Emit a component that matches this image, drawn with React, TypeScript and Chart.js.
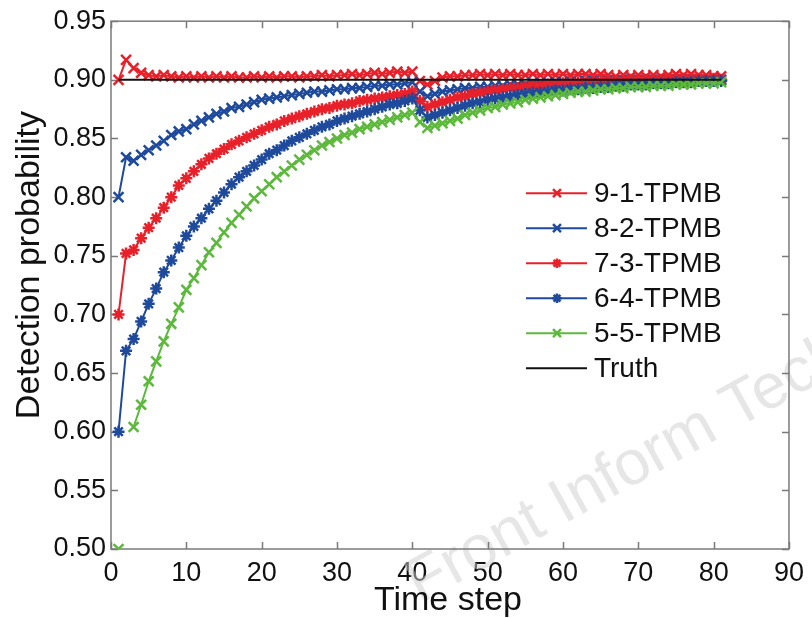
import React, { useEffect, useRef } from "react";
import { Chart, registerables } from "chart.js";

Chart.register(...registerables);

const timeSteps = [
  1, 2, 3, 4, 5, 6, 7, 8, 9, 10, 11, 12, 13, 14, 15, 16, 17, 18, 19, 20,
  21, 22, 23, 24, 25, 26, 27, 28, 29, 30, 31, 32, 33, 34, 35, 36, 37, 38, 39, 40,
  41, 42, 43, 44, 45, 46, 47, 48, 49, 50, 51, 52, 53, 54, 55, 56, 57, 58, 59, 60,
  61, 62, 63, 64, 65, 66, 67, 68, 69, 70, 71, 72, 73, 74, 75, 76, 77, 78, 79, 80, 81,
];

const series91 = [
  0.900, 0.917, 0.910, 0.906, 0.904, 0.903, 0.904, 0.903, 0.902, 0.903,
  0.902, 0.903, 0.902, 0.903, 0.902, 0.903, 0.902, 0.902, 0.903, 0.902,
  0.903, 0.902, 0.903, 0.903, 0.902, 0.903, 0.903, 0.904, 0.903, 0.904,
  0.904, 0.905, 0.904, 0.905, 0.906, 0.905, 0.906, 0.907, 0.906, 0.907,
  0.899, 0.896, 0.899, 0.902, 0.903, 0.903, 0.904, 0.904, 0.905, 0.904,
  0.905, 0.904, 0.905, 0.904, 0.904, 0.905, 0.904, 0.905, 0.904, 0.905,
  0.904, 0.905, 0.905, 0.904, 0.905, 0.904, 0.903, 0.904, 0.903, 0.904,
  0.903, 0.904, 0.903, 0.904, 0.905, 0.904, 0.905, 0.904, 0.904, 0.903, 0.903,
];

const series82 = [
  0.800, 0.834, 0.831, 0.836, 0.840, 0.844, 0.848, 0.853, 0.856, 0.858,
  0.862, 0.865, 0.868, 0.871, 0.873, 0.876, 0.877, 0.879, 0.881, 0.883,
  0.884, 0.885, 0.886, 0.887, 0.888, 0.889, 0.890, 0.890, 0.891, 0.892,
  0.892, 0.893, 0.893, 0.894, 0.895, 0.895, 0.896, 0.896, 0.897, 0.898,
  0.890, 0.886, 0.888, 0.890, 0.891, 0.892, 0.893, 0.893, 0.894, 0.894,
  0.895, 0.895, 0.896, 0.896, 0.896, 0.897, 0.897, 0.897, 0.898, 0.898,
  0.898, 0.898, 0.899, 0.899, 0.899, 0.899, 0.899, 0.899, 0.900, 0.899,
  0.900, 0.899, 0.900, 0.900, 0.899, 0.900, 0.900, 0.900, 0.900, 0.900, 0.900,
];

const series73 = [
  0.700, 0.752, 0.755, 0.765, 0.774, 0.782, 0.791, 0.800, 0.810, 0.816,
  0.822, 0.828, 0.833, 0.837, 0.841, 0.845, 0.848, 0.851, 0.854, 0.857,
  0.860, 0.862, 0.865, 0.867, 0.869, 0.871, 0.873, 0.875, 0.876, 0.878,
  0.879, 0.880, 0.882, 0.883, 0.884, 0.885, 0.886, 0.887, 0.888, 0.890,
  0.882, 0.877, 0.879, 0.881, 0.883, 0.885, 0.886, 0.888, 0.889, 0.890,
  0.891, 0.892, 0.893, 0.893, 0.894, 0.895, 0.895, 0.896, 0.896, 0.897,
  0.897, 0.898, 0.898, 0.898, 0.899, 0.899, 0.899, 0.899, 0.900, 0.900,
  0.900, 0.900, 0.900, 0.901, 0.900, 0.901, 0.900, 0.901, 0.900, 0.901, 0.900,
];

const series64 = [
  0.600, 0.669, 0.679, 0.694, 0.709, 0.722, 0.736, 0.746, 0.757, 0.767,
  0.775, 0.782, 0.790, 0.797, 0.804, 0.811, 0.817, 0.822, 0.827, 0.832,
  0.837, 0.840, 0.844, 0.848, 0.851, 0.854, 0.857, 0.860, 0.862, 0.865,
  0.867, 0.869, 0.871, 0.873, 0.875, 0.877, 0.879, 0.880, 0.882, 0.884,
  0.874, 0.868, 0.870, 0.872, 0.874, 0.876, 0.878, 0.880, 0.881, 0.883,
  0.884, 0.885, 0.886, 0.887, 0.888, 0.889, 0.889, 0.890, 0.891, 0.891,
  0.892, 0.892, 0.893, 0.893, 0.894, 0.894, 0.895, 0.895, 0.896, 0.896,
  0.896, 0.897, 0.897, 0.897, 0.898, 0.898, 0.898, 0.899, 0.899, 0.899, 0.899,
];

const series55 = [
  0.500, null, 0.604, 0.623, 0.643, 0.660, 0.677, 0.692, 0.706, 0.721,
  0.731, 0.742, 0.753, 0.761, 0.770, 0.778, 0.785, 0.792, 0.799, 0.805,
  0.811, 0.817, 0.822, 0.827, 0.832, 0.836, 0.840, 0.844, 0.847, 0.850,
  0.853, 0.855, 0.858, 0.860, 0.862, 0.864, 0.866, 0.868, 0.870, 0.872,
  0.864, 0.859, 0.861, 0.863, 0.865, 0.867, 0.870, 0.872, 0.874, 0.876,
  0.877, 0.879, 0.880, 0.881, 0.883, 0.884, 0.885, 0.886, 0.887, 0.888,
  0.889, 0.890, 0.890, 0.891, 0.892, 0.892, 0.893, 0.893, 0.894, 0.894,
  0.894, 0.895, 0.895, 0.895, 0.896, 0.896, 0.896, 0.897, 0.897, 0.897, 0.898,
];

const truthSteps = [1, 81];
const truthValues = [0.9, 0.9];

const seriesLabels = ["9-1-TPMB", "8-2-TPMB", "7-3-TPMB", "6-4-TPMB", "5-5-TPMB", "Truth"];
const yTickValues = [0.5, 0.55, 0.6, 0.65, 0.7, 0.75, 0.8, 0.85, 0.9, 0.95];
const xTitle = "Time step";
const yTitle = "Detection probability";
const watermark = "Front Inform Technol Electron Eng";

const RED = "#E8202A";
const BLUE = "#1F4A9C";
const GREEN = "#5CB93B";
const AXIS = "#7a7a7a";
const FONT = "'Liberation Sans', Arial, Helvetica, sans-serif";

function drawMarker(ctx: CanvasRenderingContext2D, style: string, x: number, y: number, r: number) {
  ctx.beginPath();
  if (style === "crossRot" || style === "star") {
    const d = r * Math.SQRT1_2;
    ctx.moveTo(x - d, y - d);
    ctx.lineTo(x + d, y + d);
    ctx.moveTo(x - d, y + d);
    ctx.lineTo(x + d, y - d);
  }
  if (style === "star") {
    ctx.moveTo(x, y - r);
    ctx.lineTo(x, y + r);
    ctx.moveTo(x - r, y);
    ctx.lineTo(x + r, y);
  }
  ctx.stroke();
}

const framePlugin = {
  id: "frame",
  beforeDatasetsDraw(chart: any) {
    const { ctx, chartArea } = chart;
    const { left, right, top, bottom } = chartArea;
    // watermark
    ctx.save();
    ctx.translate(420, 604);
    ctx.rotate((-29 * Math.PI) / 180);
    ctx.font = `63px ${FONT}`;
    ctx.fillStyle = "rgba(205,205,205,0.5)";
    ctx.textBaseline = "alphabetic";
    ctx.fillText(watermark, 0, 0);
    ctx.restore();

    // box + inward ticks
    ctx.save();
    ctx.strokeStyle = AXIS;
    ctx.lineWidth = 1.5;
    ctx.strokeRect(left, top, right - left, bottom - top);
    ctx.beginPath();
    const tl = 7;
    chart.scales.y.ticks.forEach((t: any) => {
      const py = Math.round(chart.scales.y.getPixelForValue(t.value)) + 0.5;
      ctx.moveTo(left, py);
      ctx.lineTo(left + tl, py);
      ctx.moveTo(right, py);
      ctx.lineTo(right - tl, py);
    });
    chart.scales.x.ticks.forEach((t: any) => {
      const px = Math.round(chart.scales.x.getPixelForValue(t.value)) + 0.5;
      ctx.moveTo(px, bottom);
      ctx.lineTo(px, bottom - tl);
      ctx.moveTo(px, top);
      ctx.lineTo(px, top + tl);
    });
    ctx.stroke();
    ctx.restore();

    // axis titles
    ctx.save();
    ctx.fillStyle = "#111";
    ctx.font = `34px ${FONT}`;
    ctx.textAlign = "center";
    ctx.textBaseline = "middle";
    ctx.fillText(xTitle, (left + right) / 2 - 2, 601);
    ctx.translate(30, (top + bottom) / 2 - 20);
    ctx.rotate(-Math.PI / 2);
    ctx.fillText(yTitle, 0, 0);
    ctx.restore();
  },
  afterDraw(chart: any) {
    const { ctx, chartArea } = chart;
    const x0 = chartArea.right - 263;
    const y0 = chartArea.top + 172;
    const rowH = 35;
    ctx.save();
    chart.data.datasets.forEach((ds: any, i: number) => {
      const y = y0 + i * rowH;
      ctx.strokeStyle = ds.borderColor;
      ctx.lineWidth = 2;
      ctx.beginPath();
      ctx.moveTo(x0, y);
      ctx.lineTo(x0 + 61, y);
      ctx.stroke();
      if (ds.pointStyle && ds.pointRadius > 0) {
        ctx.lineWidth = 2.5;
        drawMarker(ctx, ds.pointStyle, x0 + 31, y, ds.pointRadius * 0.8);
      }
      ctx.fillStyle = "#111";
      ctx.font = `28px ${FONT}`;
      ctx.textBaseline = "middle";
      ctx.textAlign = "left";
      ctx.fillText(ds.label, x0 + 68, y + 1);
    });
    ctx.restore();
  },
};

function makePoints(xs: number[], ys: (number | null)[]) {
  return xs.map((x, i) => ({ x, y: ys[i] }));
}

export default function App() {
  const canvasRef = useRef<HTMLCanvasElement | null>(null);

  useEffect(() => {
    const canvas = canvasRef.current;
    if (!canvas) return;
    const seriesValues = [series91, series82, series73, series64, series55];
    const colors = [RED, BLUE, RED, BLUE, GREEN];
    const styles = ["crossRot", "crossRot", "star", "star", "crossRot"];
    const radii = [7, 7, 6, 6, 7];
    const datasets: any[] = seriesValues.map((vals, i) => ({
      label: seriesLabels[i],
      data: makePoints(timeSteps, vals),
      borderColor: colors[i],
      backgroundColor: colors[i],
      borderWidth: 2,
      pointStyle: styles[i],
      pointRadius: radii[i],
      pointBorderWidth: 2.5,
      pointBorderColor: colors[i],
      pointBackgroundColor: colors[i],
      spanGaps: false,
      tension: 0,
      order: 6 - i,
    }));
    datasets.push({
      label: seriesLabels[5],
      data: makePoints(truthSteps, truthValues),
      borderColor: "#111111",
      backgroundColor: "#111111",
      borderWidth: 2,
      pointRadius: 0,
      pointStyle: false,
      tension: 0,
      order: 0,
    });

    const chart = new Chart(canvas, {
      type: "line",
      data: { datasets },
      options: {
        animation: false,
        responsive: false,
        devicePixelRatio: 1,
        layout: { padding: { left: 0, right: 22, top: 17, bottom: 0 } },
        plugins: { legend: { display: false }, tooltip: { enabled: false } },
        scales: {
          x: {
            type: "linear",
            min: 0,
            max: 90,
            grid: { display: false, drawTicks: false },
            border: { display: false },
            ticks: {
              stepSize: 10,
              padding: 8,
              color: "#111",
              font: { family: FONT, size: 27 },
              maxRotation: 0,
            },
            afterFit: (scale: any) => {
              scale.height = 69;
            },
          },
          y: {
            type: "linear",
            min: 0.5,
            max: 0.95,
            grid: { display: false, drawTicks: false },
            border: { display: false },
            afterBuildTicks: (scale: any) => {
              scale.ticks = yTickValues.map((v) => ({ value: v }));
            },
            ticks: {
              padding: 5,
              color: "#111",
              font: { family: FONT, size: 27 },
              callback: (v: any) => Number(v).toFixed(2),
            },
            afterFit: (scale: any) => {
              scale.width = 111;
            },
          },
        },
      },
      plugins: [framePlugin],
    });
    return () => chart.destroy();
  }, []);

  return (
    <div style={{ position: "absolute", left: 0, top: 0, width: 812, height: 618, background: "#fff", overflow: "hidden" }}>
      <canvas ref={canvasRef} width={812} height={618} style={{ display: "block" }} />
    </div>
  );
}
